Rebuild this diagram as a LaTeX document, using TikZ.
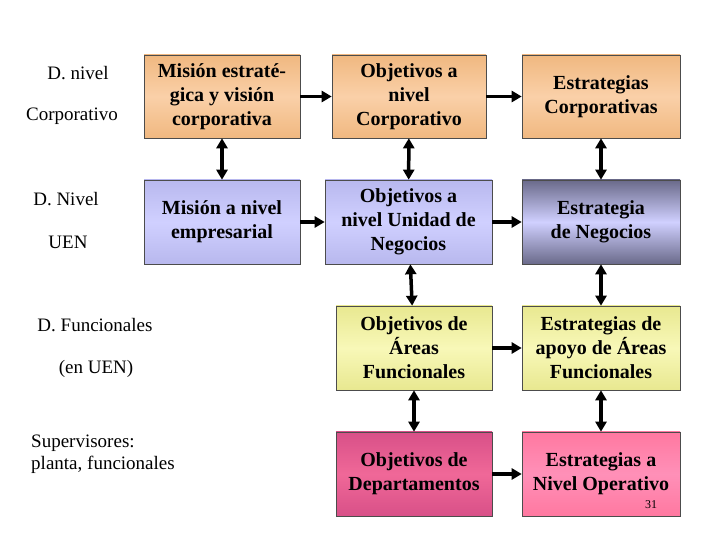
\documentclass[tikz,border=0pt]{standalone}
\usepackage{fontspec}
\setmainfont{Liberation Serif}
\usetikzlibrary{arrows.meta}
\definecolor{orA}{HTML}{F0B880}\definecolor{orB}{HTML}{FAD0A8}
\definecolor{blA}{HTML}{B8B8EE}\definecolor{blB}{HTML}{D0D0FF}
\definecolor{dbA}{HTML}{6A6A8A}
\definecolor{yeA}{HTML}{E8E890}\definecolor{yeB}{HTML}{F8F8B8}
\definecolor{pkA}{HTML}{D85088}\definecolor{pkB}{HTML}{F06898}
\definecolor{pcA}{HTML}{FF78A0}\definecolor{pcB}{HTML}{FF90B8}
\tikzset{
 boxn/.style={draw=black!70, line width=0.6pt, font=\fontsize{20}{24}\selectfont\bfseries, align=center, inner sep=0pt},
 lab/.style={font=\fontsize{19}{22}\selectfont, align=center},
 arr/.style={line width=3.5pt, -{Triangle[length=10pt,width=11pt]}},
 darr/.style={line width=3.5pt, {Triangle[length=10pt,width=11pt]}-{Triangle[length=10pt,width=11pt]}},
 fOr/.style={top color=orA, bottom color=orA, middle color=orB},
 fBl/.style={top color=blA, bottom color=blA, middle color=blB},
 fDb/.style={top color=dbA, bottom color=dbA, middle color=blB},
 fYe/.style={top color=yeA, bottom color=yeA, middle color=yeB},
 fPk/.style={top color=pkA, bottom color=pkA, middle color=pkB},
 fPc/.style={top color=pcA, bottom color=pcA, middle color=pcB},
}
\newcommand{\bx}[7]{\node[boxn,#7,minimum width=#3pt-#2pt,minimum height=#5pt-#4pt] (#1) at ({(#2+#3)/2*1pt},{(540-(#4+#5)/2)*1pt}) {#6};}
\begin{document}
\begin{tikzpicture}[x=1pt,y=1pt]
\useasboundingbox (0,0) rectangle (720,540);
\bx{a1}{144}{300}{55}{138}{Misión estraté-\\gica y visión\\corporativa}{fOr}
\bx{b1}{332}{486}{55}{138}{Objetivos a\\nivel\\Corporativo}{fOr}
\bx{c1}{522}{680}{55}{138}{Estrategias\\Corporativas}{fOr}
\bx{a2}{144}{300}{180}{264}{Misión a nivel\\empresarial}{fBl}
\bx{b2}{325}{492}{180}{264}{Objetivos a\\nivel Unidad de\\Negocios}{fBl}
\bx{c2}{522}{680}{180}{264}{Estrategia\\de Negocios}{fDb}
\bx{b3}{336}{492}{306}{390}{Objetivos de\\Áreas\\Funcionales}{fYe}
\bx{c3}{522}{680}{306}{390}{Estrategias de\\apoyo de Áreas\\Funcionales}{fYe}
\bx{b4}{336}{492}{432}{516}{Objetivos de\\Departamentos}{fPk}
\bx{c4}{522}{680}{432}{516}{Estrategias a\\Nivel Operativo}{fPc}
\draw[arr] (a1) -- (b1); \draw[arr] (b1) -- (c1);
\draw[arr] (a2) -- (b2); \draw[arr] (b2) -- (c2);
\draw[arr] (b3) -- (c3); \draw[arr] (b4) -- (c4);
\draw[darr] (a1) -- (a2);
\draw[darr] (b1) -- (b2); \draw[darr] (b2) -- (b3); \draw[darr] (b3) -- (b4);
\draw[darr] (c1) -- (c2); \draw[darr] (c2) -- (c3); \draw[darr] (c3) -- (c4);
\node[lab] (l1) at (78,467) {D. nivel};
\node[lab] (l2) at (72,424) {Corporativo};
\node[lab] (l3) at (66,341) {D. Nivel};
\node[lab] (l4) at (68,298) {UEN};
\node[lab] (l5) at (95,215) {D. Funcionales};
\node[lab] (l6) at (96,171) {(en UEN)};
\node[lab, align=left] (l7) at (103,86) {Supervisores:\\planta, funcionales};
\node[font=\fontsize{12}{14}\selectfont] (pg) at (651,35) {31};
\end{tikzpicture}
\end{document}
